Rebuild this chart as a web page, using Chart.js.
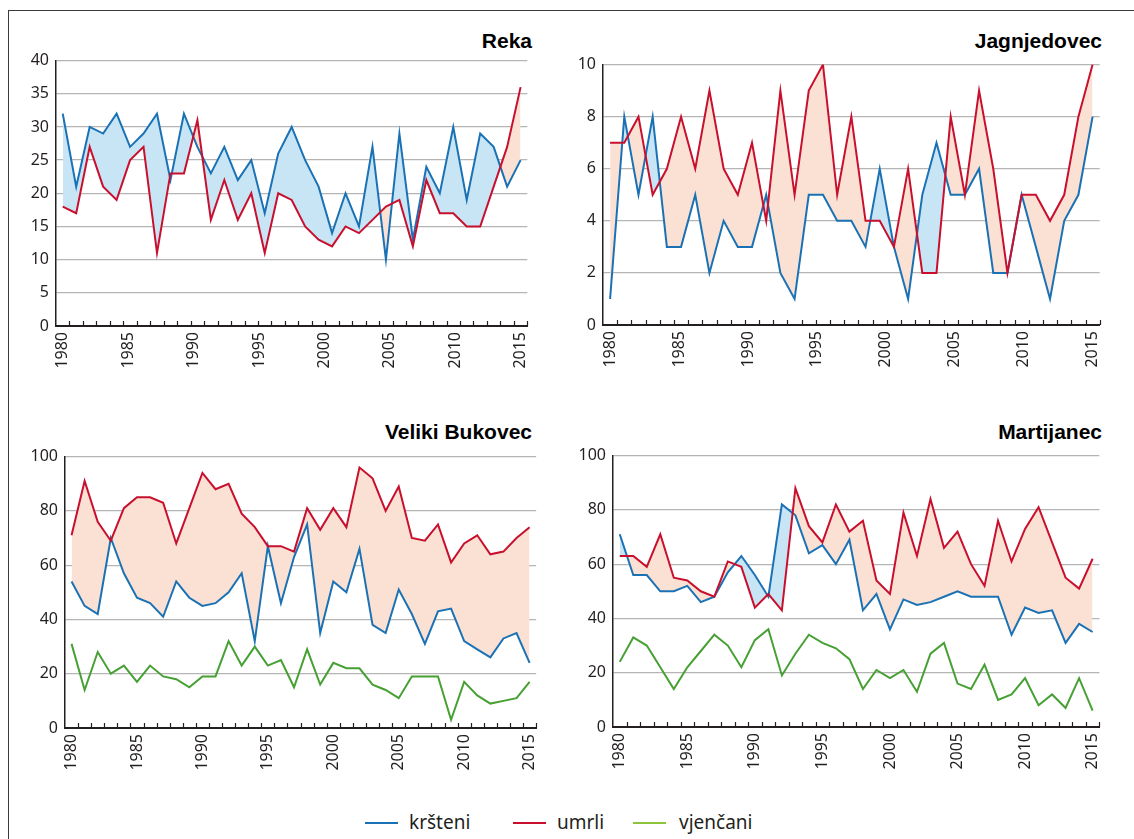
<!DOCTYPE html>
<html>
<head>
<meta charset="utf-8">
<script src="https://cdn.jsdelivr.net/npm/chart.js@4.4.1/dist/chart.umd.min.js"></script>
<style>
  html, body { margin: 0; padding: 0; background: #fff; }
  body { width: 1134px; height: 839px; position: relative; overflow: hidden; font-family: "Noto Sans", sans-serif; }
  #frame { position: absolute; left: 8px; top: 10px; width: 1200px; height: 900px; border-top: 1px solid #3a3a3a; border-left: 1px solid #3a3a3a; }
  .title { position: absolute; font-family: "Liberation Sans", Arial, sans-serif; font-weight: bold; font-size: 21px; line-height: 24px; color: #000; white-space: nowrap; text-align: right; }
  .lg-line { position: absolute; height: 2px; width: 33px; }
  .lg-text { position: absolute; font-family: "Noto Sans", sans-serif; font-size: 19px; line-height: 26px; color: #231f20; white-space: nowrap; }
</style>
</head>
<body>
<div id="frame"></div>

<div class="title" style="right:602px; top:29px;">Reka</div>
<div class="title" style="right:32px; top:29px;">Jagnjedovec</div>
<div class="title" style="right:602px; top:420px;">Veliki Bukovec</div>
<div class="title" style="right:32px; top:420px;">Martijanec</div>

<div class="lg-line" style="left:365px; top:822px; background:#1a72b5;"></div>
<div class="lg-text" style="left:409px; top:809px;">kršteni</div>
<div class="lg-line" style="left:513px; top:822px; background:#c8102e;"></div>
<div class="lg-text" style="left:557px; top:809px;">umrli</div>
<div class="lg-line" style="left:633px; top:822px; background:#8cc43c;"></div>
<div class="lg-text" style="left:679px; top:809px;">vjenčani</div>

<script>
// ---------- data ----------
const tickLabels = ['1980', '1985', '1990', '1995', '2000', '2005', '2010', '2015'];

// Reka and Jagnjedovec are drawn with 35 points, the other two with 36
const categories35 = Array.from({ length: 35 }, (_, i) => i);
const categories36 = Array.from({ length: 36 }, (_, i) => i);

const rekaKrsteni = [32, 21, 30, 29, 32, 27, 29, 32, 22, 32, 27, 23, 27, 22, 25, 17, 26, 30, 25, 21, 14, 20, 15, 27, 10, 29, 13, 24, 20, 30, 19, 29, 27, 21, 25];
const rekaUmrli   = [18, 17, 27, 21, 19, 25, 27, 11, 23, 23, 31, 16, 22, 16, 20, 11, 20, 19, 15, 13, 12, 15, 14, 16, 18, 19, 12, 22, 17, 17, 15, 15, 21, 27, 36];

const jagKrsteni = [1, 8, 5, 8, 3, 3, 5, 2, 4, 3, 3, 5, 2, 1, 5, 5, 4, 4, 3, 6, 3, 1, 5, 7, 5, 5, 6, 2, 2, 5, 3, 1, 4, 5, 8];
const jagUmrli   = [7, 7, 8, 5, 6, 8, 6, 9, 6, 5, 7, 4, 9, 5, 9, 10, 5, 8, 4, 4, 3, 6, 2, 2, 8, 5, 9, 6, 2, 5, 5, 4, 5, 8, 10];

const vbKrsteni  = [54, 45, 42, 70, 57, 48, 46, 41, 54, 48, 45, 46, 50, 57, 32, 67, 46, 63, 75, 35, 54, 50, 66, 38, 35, 51, 42, 31, 43, 44, 32, 29, 26, 33, 35, 24];
const vbUmrli    = [71, 91, 76, 69, 81, 85, 85, 83, 68, 81, 94, 88, 90, 79, 74, 67, 67, 65, 81, 73, 81, 74, 96, 92, 80, 89, 70, 69, 75, 61, 68, 71, 64, 65, 70, 74];
const vbVjencani = [31, 14, 28, 20, 23, 17, 23, 19, 18, 15, 19, 19, 32, 23, 30, 23, 25, 15, 29, 16, 24, 22, 22, 16, 14, 11, 19, 19, 19, 3, 17, 12, 9, 10, 11, 17];

const marKrsteni  = [71, 56, 56, 50, 50, 52, 46, 48, 57, 63, 56, 48, 82, 78, 64, 67, 60, 69, 43, 49, 36, 47, 45, 46, 48, 50, 48, 48, 48, 34, 44, 42, 43, 31, 38, 35];
const marUmrli    = [63, 63, 59, 71, 55, 54, 50, 48, 61, 59, 44, 49, 43, 88, 74, 68, 82, 72, 76, 54, 49, 79, 63, 84, 66, 72, 60, 52, 76, 61, 73, 81, 68, 55, 51, 62];
const marVjencani = [24, 33, 30, 22, 14, 22, 28, 34, 30, 22, 32, 36, 19, 27, 34, 31, 29, 25, 14, 21, 18, 21, 13, 27, 31, 16, 14, 23, 10, 12, 18, 8, 12, 7, 18, 6];

// ---------- style ----------
const BLUE = '#1a72b5', RED = '#c8102e', GREEN = '#46a033';
const FILL_BLUE = '#c8e5f6', FILL_RED = '#fbe0d4';
const TXT = '#231f20';
const FONT = '"Noto Sans", sans-serif';

const tickMarks = {
  id: 'tickMarks',
  afterDraw(chart) {
    const xs = chart.scales.x, ctx = chart.ctx, b = chart.chartArea.bottom;
    const n = chart.data.labels.length;
    ctx.save();
    ctx.strokeStyle = TXT;
    ctx.lineWidth = 1.2;
    ctx.beginPath();
    for (let i = 1; i <= n; i++) {
      const px = Math.round(xs.getPixelForValue(i - 0.5)) + 0.5;
      ctx.moveTo(px, b);
      ctx.lineTo(px, b - 5);
    }
    ctx.stroke();
    ctx.restore();
  }
};

function makePanel(p) {
  const n = p.categories.length;
  const yW = 48, padR = 14, padTop = 15, xH = 52;
  const left = p.L - yW, top = p.T - padTop;
  const w = Math.round(p.R - left + padR), h = Math.round(padTop + (p.B - p.T) + xH);
  const cv = document.createElement('canvas');
  cv.width = w; cv.height = h;
  cv.style.cssText = `position:absolute;left:${left}px;top:${top}px;width:${w}px;height:${h}px;`;
  document.body.appendChild(cv);

  const datasets = [
    { label: 'kršteni', data: p.krsteni, borderColor: BLUE, backgroundColor: FILL_BLUE,
      fill: { target: 1, above: FILL_BLUE, below: FILL_RED }, order: 1 },
    { label: 'umrli', data: p.umrli, borderColor: RED, fill: false, order: 0 }
  ];
  if (p.vjencani) datasets.push({ label: 'vjenčani', data: p.vjencani, borderColor: GREEN, fill: false, order: 2 });

  new Chart(cv, {
    type: 'line',
    data: { labels: p.categories, datasets },
    options: {
      responsive: false,
      animation: false,
      devicePixelRatio: 1,
      layout: { padding: { top: padTop, right: padR, left: 0, bottom: 0 } },
      elements: { line: { borderWidth: 2, tension: 0 }, point: { radius: 0 } },
      plugins: {
        legend: { display: false },
        tooltip: { enabled: false },
        filler: { drawTime: 'beforeDatasetsDraw' }
      },
      scales: {
        x: {
          type: 'linear',
          min: -0.5,
          max: n - 0.5,
          afterBuildTicks: s => {
            s.ticks = tickLabels.map((t, k) => ({ value: k * (n - 1) / (tickLabels.length - 1) }));
          },
          afterFit: s => { s.height = xH; },
          grid: { display: true, drawOnChartArea: false, drawTicks: false },
          border: { color: TXT, width: 2 },
          ticks: {
            autoSkip: false, minRotation: 90, maxRotation: 90, padding: 6,
            color: TXT, font: { family: FONT, size: 16 },
            callback: (v, i) => tickLabels[i]
          }
        },
        y: {
          min: 0,
          max: p.yMax,
          afterFit: s => { s.width = yW; },
          grid: { color: '#b5b5b5', lineWidth: 1.3, drawTicks: false },
          border: { color: TXT, width: 1.5 },
          ticks: { stepSize: p.yStep, padding: 7, color: TXT, font: { family: FONT, size: 16 } }
        }
      }
    },
    plugins: [tickMarks]
  });
}

makePanel({ categories: categories35, krsteni: rekaKrsteni, umrli: rekaUmrli,
  yMax: 40, yStep: 5, L: 56, R: 532, T: 59, B: 326 });
makePanel({ categories: categories35, krsteni: jagKrsteni, umrli: jagUmrli,
  yMax: 10, yStep: 2, L: 603, R: 1104, T: 63, B: 325 });
makePanel({ categories: categories36, krsteni: vbKrsteni, umrli: vbUmrli, vjencani: vbVjencani,
  yMax: 100, yStep: 20, L: 65, R: 541, T: 455, B: 728 });
makePanel({ categories: categories36, krsteni: marKrsteni, umrli: marUmrli, vjencani: marVjencani,
  yMax: 100, yStep: 20, L: 613, R: 1104, T: 454, B: 727 });
</script>
</body>
</html>
